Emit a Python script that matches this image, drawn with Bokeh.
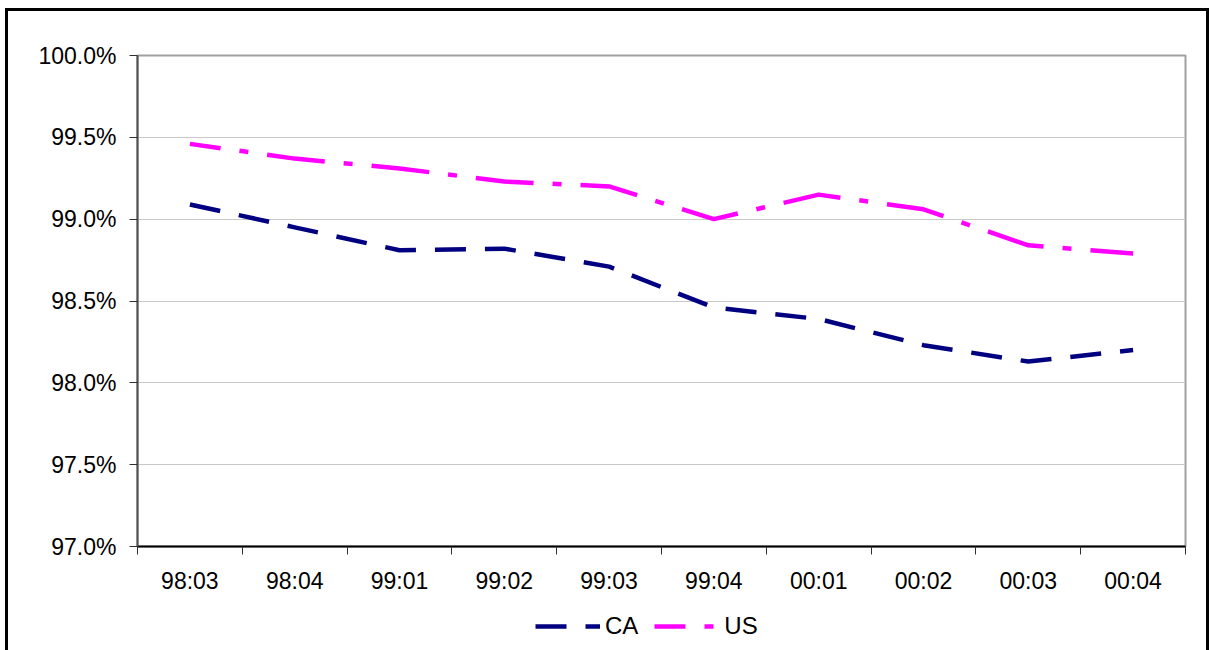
from bokeh.plotting import figure
from bokeh.layouts import column
from bokeh.models import Range1d, FixedTicker, PrintfTickFormatter, Legend, LegendItem
from bokeh.embed import file_html
from bokeh.resources import INLINE

categories = ["98:03", "98:04", "99:01", "99:02", "99:03", "99:04", "00:01", "00:02", "00:03", "00:04"]
ca = [99.09, 98.95, 98.81, 98.82, 98.71, 98.46, 98.39, 98.23, 98.13, 98.20]
us = [99.46, 99.37, 99.31, 99.23, 99.20, 99.00, 99.15, 99.06, 98.84, 98.79]
y_ticks = [97.0, 97.5, 98.0, 98.5, 99.0, 99.5, 100.0]
series_names = ["CA", "US"]
series_values = [ca, us]
series_colors = ["#000080", "#FF00FF"]
series_dash = ["31 19", "58 19 9 19"]
series_dash_offset = [0, 27]

xs = [i + 0.5 for i in range(len(categories))]
FONT = "Liberation Sans"

p = figure(width=1209, height=600, output_backend="svg", toolbar_location=None,
           x_range=Range1d(0, len(categories)), y_range=Range1d(97.0, 100.0),
           min_border_left=137, min_border_right=24, min_border_top=55, min_border_bottom=54)
p.background_fill_color = "white"
p.border_fill_color = "white"
p.outline_line_color = "#a0a0a0"
p.outline_line_width = 2

p.xgrid.visible = False
p.ygrid.grid_line_color = "#c8c8c8"
p.ygrid.grid_line_width = 1
p.ygrid.ticker = FixedTicker(ticks=y_ticks)

# y axis
ya = p.yaxis[0]
ya.ticker = FixedTicker(ticks=y_ticks)
ya.formatter = PrintfTickFormatter(format="%.1f%%")
ya.axis_line_color = "#505050"
ya.axis_line_width = 2
ya.major_tick_line_color = "#303030"
ya.major_tick_in = 0
ya.major_tick_out = 8
ya.minor_tick_line_color = None
ya.major_label_text_font = FONT
ya.major_label_text_font_size = "23px"
ya.major_label_text_color = "black"
ya.major_label_standoff = 13

# x axis: labels at category centres, ticks at category boundaries
xa = p.xaxis[0]
xa.ticker = FixedTicker(ticks=xs, minor_ticks=list(range(len(categories) + 1)))
xa.major_label_overrides = {x: c for x, c in zip(xs, categories)}
xa.axis_line_color = "black"
xa.axis_line_width = 2
xa.major_tick_line_color = None
xa.major_tick_in = 0
xa.major_tick_out = 8
xa.minor_tick_line_color = "#303030"
xa.minor_tick_line_width = 1
xa.minor_tick_in = 0
xa.minor_tick_out = 8
xa.major_label_text_font = FONT
xa.major_label_text_font_size = "23px"
xa.major_label_text_color = "black"
xa.major_label_standoff = 13

for vals, col, dash, off in zip(series_values, series_colors, series_dash, series_dash_offset):
    p.line(xs, vals, line_color=col, line_width=4.5, line_dash=dash, line_dash_offset=off)

# legend strip below the chart (its lines lie outside its visible y range)
lf = figure(width=1209, height=50, output_backend="svg", toolbar_location=None,
            x_range=Range1d(0, len(categories)), y_range=Range1d(0, 1),
            x_axis_type=None, y_axis_type=None,
            min_border_left=137, min_border_right=24, min_border_top=0, min_border_bottom=0)
lf.outline_line_color = None
lf.grid.visible = False
lf.background_fill_color = "white"
lf.border_fill_color = "white"
items = []
for name, vals, col, dash, off in zip(series_names, series_values, series_colors,
                                      series_dash, series_dash_offset):
    r = lf.line(xs, vals, line_color=col, line_width=4.5, line_dash=dash, line_dash_offset=off)
    items.append(LegendItem(label=name, renderers=[r]))

legend = Legend(items=items, orientation="horizontal", location=(398, 10),
                glyph_width=65, glyph_height=20, label_standoff=5, spacing=16,
                padding=4, margin=0, border_line_color=None,
                label_text_font=FONT, label_text_font_size="24px",
                label_text_color="black", background_fill_alpha=0)
lf.add_layout(legend, "center")

layout = column(p, lf, spacing=0)

html = file_html(layout, INLINE)
frame = ('<div style="position:absolute;left:5px;top:8px;width:1198px;height:700px;'
         'border:3px solid black;pointer-events:none;z-index:10"></div>')
html = html.replace("</body>", frame + "</body>", 1)
open("out.html", "w").write(html)
